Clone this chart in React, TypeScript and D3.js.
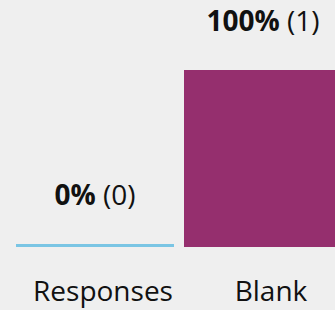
import React, { useEffect, useRef } from 'react';
import * as d3 from 'd3';

const categories = ['Responses', 'Blank'];
const percents = [0, 100];
const counts = [0, 1];
const colors = ['#7ac5e4', '#952f6e'];

const App = () => {
  const ref = useRef<SVGSVGElement | null>(null);

  useEffect(() => {
    if (!ref.current) return;
    const width = 335;
    const height = 310;
    const svg = d3.select(ref.current);
    svg.selectAll('*').remove();
    svg.attr('width', width).attr('height', height);

    svg.append('rect')
      .attr('width', width)
      .attr('height', height)
      .attr('fill', '#efefef');

    // band scale runs past the right edge, the second bar is cut off
    const x = d3.scaleBand<string>()
      .domain(categories)
      .range([16, 342])
      .paddingInner(10 / 168)
      .paddingOuter(0);

    const y = d3.scaleLinear().domain([0, 100]).range([247, 70]);
    const minH = 3;

    const data = categories.map((c, i) => ({ c, p: percents[i], n: counts[i], color: colors[i] }));
    const top = (d: { p: number }) => Math.min(y(d.p), y(0) - minH);

    svg.selectAll('rect.bar')
      .data(data)
      .join('rect')
      .attr('class', 'bar')
      .attr('x', d => x(d.c)!)
      .attr('width', x.bandwidth())
      .attr('y', d => top(d))
      .attr('height', d => y(0) - top(d))
      .attr('fill', d => d.color);

    const font = "'Open Sans', 'Noto Sans', sans-serif";

    const vl = svg.selectAll('text.val')
      .data(data)
      .join('text')
      .attr('class', 'val')
      .attr('x', d => x(d.c)! + x.bandwidth() / 2)
      .attr('y', d => top(d) - 39)
      .attr('text-anchor', 'middle')
      .style('font-family', font)
      .style('font-size', '28px')
      .style('fill', '#111');
    vl.append('tspan').style('font-weight', 'bold').text(d => `${d.p}%`);
    vl.append('tspan').text(d => ` (${d.n})`);

    svg.selectAll('text.cat')
      .data(data)
      .join('text')
      .attr('class', 'cat')
      .attr('x', d => x(d.c)! + x.bandwidth() / 2 + 8)
      .attr('y', 301)
      .attr('text-anchor', 'middle')
      .style('font-family', font)
      .style('font-size', '28px')
      .style('fill', '#111')
      .text(d => d.c);
  }, []);

  return <svg ref={ref} style={{ position: 'absolute', left: 0, top: 0 }} />;
};

export default App;
